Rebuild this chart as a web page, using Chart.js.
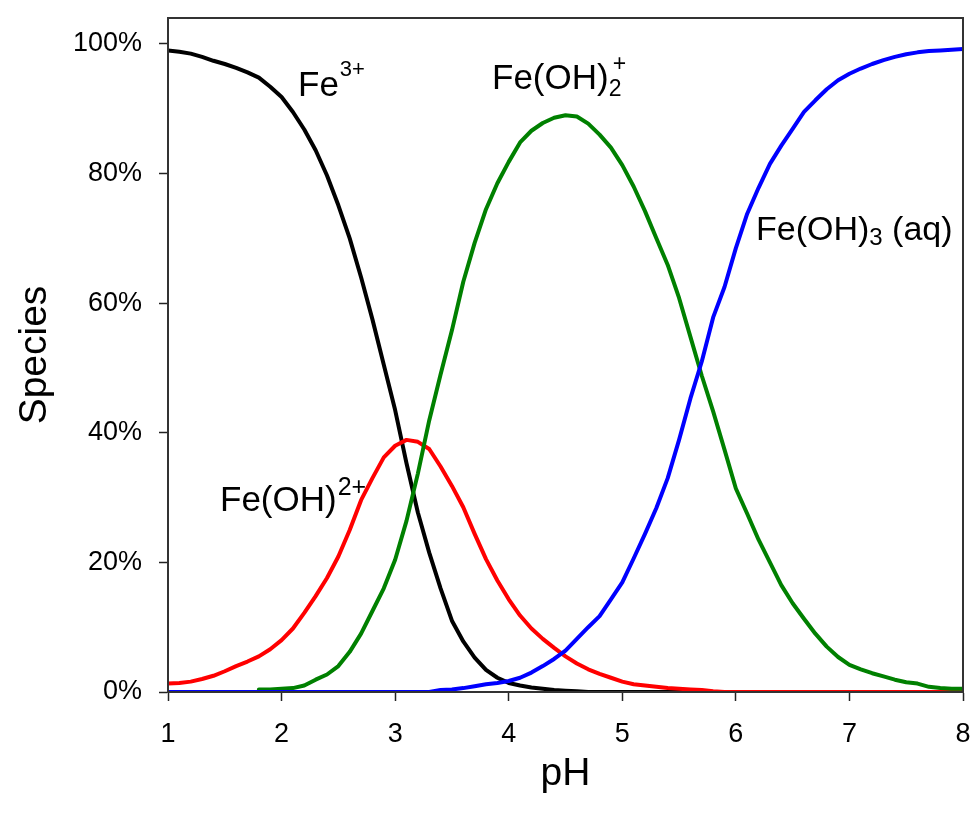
<!DOCTYPE html>
<html>
<head>
<meta charset="utf-8">
<script src="https://cdn.jsdelivr.net/npm/chart.js@4.4.0/dist/chart.umd.min.js"></script>
<style>
  body { margin: 0; background: #fff; }
</style>
</head>
<body>
<canvas id="species-chart" width="973" height="815"></canvas>
<script>
const FONT = "'Liberation Sans', Arial, sans-serif";

// pH grid, 0.1 step
const ph = [
  1.0, 1.1, 1.2, 1.3, 1.4, 1.5, 1.6, 1.7, 1.8, 1.9,
  2.0, 2.1, 2.2, 2.3, 2.4, 2.5, 2.6, 2.7, 2.8, 2.9,
  3.0, 3.1, 3.2, 3.3, 3.4, 3.5, 3.6, 3.7, 3.8, 3.9,
  4.0, 4.1, 4.2, 4.3, 4.4, 4.5, 4.6, 4.7, 4.8, 4.9,
  5.0, 5.1, 5.2, 5.3, 5.4, 5.5, 5.6, 5.7, 5.8, 5.9,
  6.0, 6.1, 6.2, 6.3, 6.4, 6.5, 6.6, 6.7, 6.8, 6.9,
  7.0, 7.1, 7.2, 7.3, 7.4, 7.5, 7.6, 7.7, 7.8, 7.9,
  8.0
];

// Fe3+ (%)
const fe3 = [
  99.0, 98.8, 98.5, 98.0, 97.4, 96.9, 96.3, 95.6, 94.8, 93.4,
  91.8, 89.5, 86.8, 83.6, 79.7, 75.1, 70.0, 64.0, 57.5, 50.5,
  43.5, 35.3, 27.7, 21.5, 16.0, 11.0, 7.8, 5.3, 3.4, 2.2,
  1.4, 1.0, 0.7, 0.5, 0.3, 0.2, 0.1, 0, 0, 0,
  0, 0, 0, 0, 0, 0, 0, 0, 0, 0,
  0, 0, 0, 0, 0, 0, 0, 0, 0, 0,
  0, 0, 0, 0, 0, 0, 0, 0, 0, 0,
  0
];

// Fe(OH)2+ (%)
const feOH = [
  1.3, 1.4, 1.6, 2.0, 2.5, 3.2, 4.0, 4.7, 5.5, 6.6,
  8.0, 9.8, 12.2, 14.8, 17.6, 20.9, 25.0, 29.6, 33.0, 36.2,
  38.0, 38.9, 38.6, 37.5, 34.8, 31.8, 28.5, 24.4, 20.5, 17.2,
  14.3, 11.8, 9.8, 8.2, 6.8, 5.5, 4.4, 3.5, 2.8, 2.2,
  1.6, 1.2, 1.0, 0.8, 0.6, 0.5, 0.4, 0.3, 0.1, 0,
  0, 0, 0, 0, 0, 0, 0, 0, 0, 0,
  0, 0, 0, 0, 0, 0, 0, 0, 0, 0,
  0
];

// Fe(OH)2 + (%)
const feOH2 = [
  null, null, null, null, null, null, null, null, 0.4, 0.4,
  0.5, 0.6, 1.0, 1.9, 2.7, 4.0, 6.2, 9.0, 12.5, 16.0,
  20.4, 26.4, 33.7, 41.9, 49.0, 55.8, 63.3, 69.3, 74.5, 78.5,
  81.8, 84.8, 86.6, 87.8, 88.6, 89.0, 88.8, 87.7, 86.0, 84.0,
  81.3, 78.0, 74.2, 70.0, 65.9, 60.8, 54.8, 48.8, 43.3, 37.4,
  31.4, 27.5, 23.5, 20.0, 16.5, 13.7, 11.3, 9.0, 7.0, 5.4,
  4.2, 3.5, 2.9, 2.4, 1.9, 1.5, 1.3, 0.8, 0.6, 0.5,
  0.5
];

// Fe(OH)3 (aq) (%)
const feOH3 = [
  0, 0, 0, 0, 0, 0, 0, 0, 0, 0,
  0, 0, 0, 0, 0, 0, 0, 0, 0, 0,
  0, 0, 0, 0, 0.3, 0.4, 0.6, 0.9, 1.2, 1.4,
  1.7, 2.2, 3.0, 4.0, 5.1, 6.4, 8.2, 10.0, 11.7, 14.3,
  16.9, 20.6, 24.4, 28.4, 33.0, 38.9, 45.3, 51.0, 57.8, 62.5,
  68.5, 73.8, 77.8, 81.5, 84.3, 86.9, 89.5, 91.3, 93.0, 94.4,
  95.4, 96.2, 96.9, 97.5, 98.0, 98.4, 98.7, 98.9, 99.0, 99.1,
  99.2
];

const xTicks = [1, 2, 3, 4, 5, 6, 7, 8];
const yTicks = [0, 20, 40, 60, 80, 100];

function toPoints(values) {
  return ph.map((x, i) => ({ x: x, y: values[i] }));
}

// frame around the plot area
const boxPlugin = {
  id: "box",
  afterDatasetsDraw(chart) {
    const { ctx, chartArea } = chart;
    ctx.save();
    ctx.strokeStyle = "#333";
    ctx.lineWidth = 2;
    ctx.strokeRect(chartArea.left, chartArea.top,
      chartArea.right - chartArea.left, chartArea.bottom - chartArea.top);
    ctx.restore();
  }
};

// species names with sub/superscripts
function drawParts(ctx, x, y, parts) {
  let cx = x;
  parts.forEach((p) => {
    ctx.font = p.size + "px " + FONT;
    ctx.fillText(p.text, cx + (p.dx || 0), y + (p.dy || 0));
    if (!p.noAdvance) cx += ctx.measureText(p.text).width + (p.dx || 0);
  });
}

const labelPlugin = {
  id: "speciesLabels",
  afterDraw(chart) {
    const ctx = chart.ctx;
    ctx.save();
    ctx.fillStyle = "#000";
    ctx.textBaseline = "alphabetic";
    ctx.textAlign = "left";
    drawParts(ctx, 298, 96, [
      { text: "Fe", size: 35 },
      { text: "3+", size: 22, dy: -20, dx: 1 }
    ]);
    drawParts(ctx, 492, 89, [
      { text: "Fe(OH)", size: 35 },
      { text: "+", size: 23, dy: -18, dx: 4, noAdvance: true },
      { text: "2", size: 23, dy: 7, dx: 0 }
    ]);
    drawParts(ctx, 220, 511, [
      { text: "Fe(OH)", size: 35 },
      { text: "2+", size: 25, dy: -16, dx: 1 }
    ]);
    drawParts(ctx, 756, 240, [
      { text: "Fe(OH)", size: 34 },
      { text: "3", size: 24, dy: 5 },
      { text: " (aq)", size: 34 }
    ]);
    ctx.restore();
  }
};

const ctx = document.getElementById("species-chart").getContext("2d");
new Chart(ctx, {
  type: "line",
  data: {
    datasets: [
      { label: "Fe3+", data: toPoints(fe3), borderColor: "#000000", order: 4 },
      { label: "Fe(OH)2+", data: toPoints(feOH), borderColor: "#ff0000", order: 3 },
      { label: "Fe(OH)2 +", data: toPoints(feOH2), borderColor: "#008000", order: 2 },
      { label: "Fe(OH)3 (aq)", data: toPoints(feOH3), borderColor: "#0000ff", order: 1 }
    ]
  },
  options: {
    responsive: false,
    animation: false,
    layout: { padding: { top: 18, right: 10, left: 0, bottom: 0 } },
    plugins: {
      legend: { display: false },
      tooltip: { enabled: false }
    },
    elements: {
      point: { radius: 0 },
      line: { borderWidth: 4, tension: 0, fill: false, borderCapStyle: "round", borderJoinStyle: "round" }
    },
    scales: {
      x: {
        type: "linear",
        min: 1,
        max: 8,
        afterBuildTicks: (s) => { s.ticks = xTicks.map((v) => ({ value: v })); },
        afterFit: (s) => {
          s.height = 123;
          s.paddingLeft = 0;
          s.paddingRight = 0;
        },
        ticks: { color: "#000", font: { family: FONT, size: 27 }, padding: 17 },
        grid: { drawOnChartArea: false, tickLength: 9, color: "#222", tickWidth: 1.5 },
        border: { color: "#222", width: 2 },
        title: {
          display: true, text: "pH", color: "#000",
          font: { family: FONT, size: 39 }, padding: { top: 0, bottom: 17 }
        }
      },
      y: {
        min: 0,
        max: 104,
        afterBuildTicks: (s) => { s.ticks = yTicks.map((v) => ({ value: v })); },
        afterFit: (s) => {
          s.width = 168;
          s.paddingTop = 0;
          s.paddingBottom = 0;
        },
        ticks: { color: "#000", font: { family: FONT, size: 27 }, padding: 17, callback: (v) => v + "%" },
        grid: { drawOnChartArea: false, tickLength: 9, color: "#222", tickWidth: 1.5 },
        border: { color: "#222", width: 2 },
        title: {
          display: true, text: "Species", color: "#000",
          font: { family: FONT, size: 39 }, padding: { top: 12, bottom: 0 }
        }
      }
    }
  },
  plugins: [boxPlugin, labelPlugin]
});
</script>
</body>
</html>
